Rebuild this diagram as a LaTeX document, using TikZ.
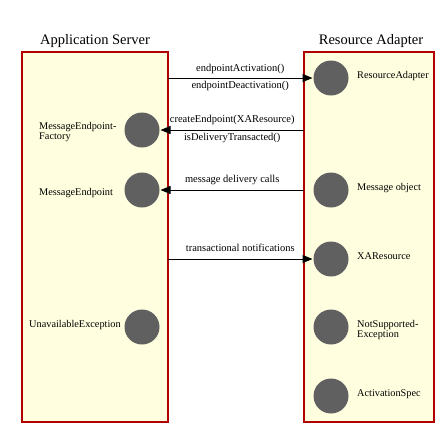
\documentclass[tikz,border=0pt]{standalone}
\usepackage{fontspec}
\setmainfont{Liberation Serif}
\usetikzlibrary{arrows.meta}
\definecolor{boxfill}{HTML}{FFFFE0}
\definecolor{boxline}{HTML}{B00000}
\definecolor{dotgray}{HTML}{606060}
\begin{document}
\begin{tikzpicture}[x=1pt,y=-1pt,
  panel/.style={draw=boxline,fill=boxfill,line width=2pt,inner sep=0pt,outer sep=0pt},
  dot/.style={circle,fill=dotgray,minimum size=35pt,inner sep=0pt,outer sep=1pt},
  title/.style={font=\fontsize{14.5}{16}\selectfont,inner sep=0pt},
  lab/.style={font=\fontsize{10.3}{10}\selectfont,inner sep=0pt,align=left},
  msg/.style={font=\fontsize{10.5}{10}\selectfont,inner sep=0pt},
  conn/.style={draw=black,line width=1pt,-{Triangle[length=10pt,width=8pt]}}
]
\useasboundingbox (0,0) rectangle (438,437);
% panels
\node[panel,minimum width=146pt,minimum height=370pt] (as) at (95,237) {};
\node[panel,minimum width=130pt,minimum height=370pt] (rad) at (369,237) {};
\node[title] (ast) at (95,41) {Application Server};
\node[title] (radt) at (371,41) {Resource Adapter};
% left dots
\node[dot] (mef) at (142,130) {};
\node[dot] (me) at (142,190) {};
\node[dot] (ue) at (142,327) {};
\node[lab,anchor=west] (mefl) at (39,132.5) {MessageEndpoint-\\Factory};
\node[lab,anchor=west] (mel) at (39,193) {MessageEndpoint};
\node[lab,anchor=west] (uel) at (29,325) {UnavailableException};
% right dots
\node[dot] (ra) at (331,78) {};
\node[dot] (mo) at (331,190) {};
\node[dot] (xa) at (331,259) {};
\node[dot] (ns) at (331,327) {};
\node[dot] (asp) at (331,396) {};
\node[lab,anchor=west] (ral) at (357,76) {ResourceAdapter};
\node[lab,anchor=west] (mol) at (357,188) {Message object};
\node[lab,anchor=west] (xal) at (357,256) {XAResource};
\node[lab,anchor=west] (nsl) at (357,330) {NotSupported-\\Exception};
\node[lab,anchor=west] (aspl) at (357,394) {ActivationSpec};
% connectors
\draw[conn] (as.east |- ra) -- node[msg,yshift=9pt] (c1a) {endpointActivation()} node[msg,yshift=-8pt] (c1b) {endpointDeactivation()} (ra);
\draw[conn] (rad.west |- mef) -- node[msg,yshift=10pt] (c2a) {createEndpoint(XAResource)} node[msg,yshift=-7.5pt] (c2b) {isDeliveryTransacted()} (mef);
\draw[conn] (rad.west |- me) -- node[msg,yshift=10pt] (c3a) {message delivery calls} (me);
\draw[conn] (as.east |- xa) -- node[msg,yshift=11pt] (c4a) {transactional notifications} (xa);
\end{tikzpicture}
\end{document}
